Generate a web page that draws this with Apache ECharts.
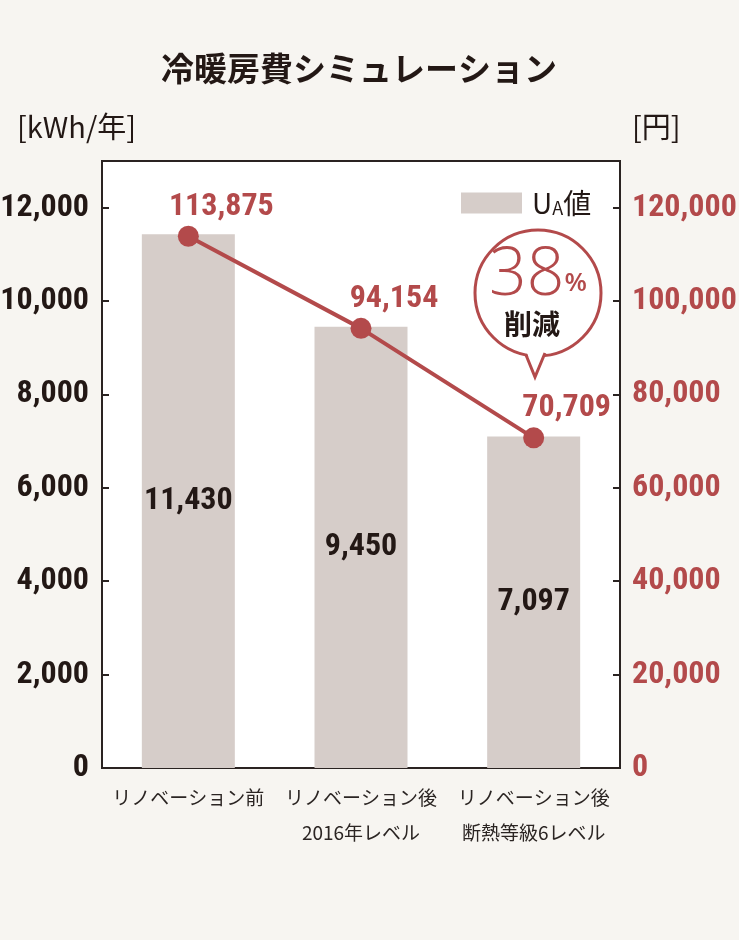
<!DOCTYPE html>
<html><head><meta charset="utf-8">
<script src="https://cdn.jsdelivr.net/npm/echarts@6/dist/echarts.min.js"></script>
<style>html,body{margin:0;padding:0;background:#f7f5f1;}#c{width:739px;height:940px;}</style>
</head><body><div id="c"></div>
<script>
const categories = ['リノベーション前', 'リノベーション後\n2016年レベル', 'リノベーション後\n断熱等級6レベル'];
const energyKWh = [11430, 9450, 7097];
const costYen = [113875, 94154, 70709];
const leftTicks = [0, 2000, 4000, 6000, 8000, 10000, 12000];
const rightTicks = [0, 20000, 40000, 60000, 80000, 100000, 120000];
const reductionPct = 38;

const NUM = '"Roboto Condensed","Open Sans Condensed",sans-serif';
const JP = '"Noto Sans CJK JP",sans-serif';
const RED = '#b34a4b';
const INK = '#231815';
const fmt = v => v.toLocaleString('en-US');

const chart = echarts.init(document.getElementById('c'));
chart.setOption({
  backgroundColor: '#f7f5f1',
  animation: false,
  title: {
    text: '冷暖房費シミュレーション', left: 156, top: 47,
    textStyle: { fontFamily: JP, fontSize: 33, fontWeight: 'bold', color: INK }
  },
  legend: {
    data: ['UA値'], left: 461, top: 189, padding: 0, itemWidth: 61, itemHeight: 21, itemGap: 10,
    icon: 'rect',
    formatter: () => '{u|U}{a|A}{v|値}',
    textStyle: { rich: {
      u: { fontFamily: JP, fontSize: 28, color: INK, padding: [0, 0, 0, 5] },
      a: { fontFamily: JP, fontSize: 18, color: INK, verticalAlign: 'bottom', padding: [7, 0, 0, 0] },
      v: { fontFamily: JP, fontSize: 28, color: INK }
    } }
  },
  grid: { left: 102, right: 119, top: 161, bottom: 172, outerBoundsMode: 'none', containLabel: false, show: true, backgroundColor: '#ffffff', borderColor: '#2a2321', borderWidth: 2 },
  xAxis: {
    type: 'category', data: categories,
    axisLine: { lineStyle: { color: '#2a2321', width: 2 } },
    axisTick: { inside: true, length: 8, lineStyle: { color: '#2a2321', width: 2 } },
    axisLabel: { interval: 0, fontFamily: JP, fontSize: 19, color: '#2b2523', lineHeight: 35, margin: 12 }
  },
  yAxis: [
    { type: 'value', min: 0, max: 13000, interval: 2000, splitLine: { show: false },
      axisLine: { show: true, lineStyle: { color: '#2a2321', width: 2 } },
      axisTick: { show: true, inside: true, length: 7, lineStyle: { color: '#2a2321', width: 2 } },
      axisLabel: { margin: 13, fontFamily: NUM, fontWeight: 'bold', fontSize: 32, color: INK,
        formatter: v => leftTicks.includes(v) ? fmt(v) : '' } },
    { type: 'value', min: 0, max: 130000, interval: 20000, splitLine: { show: false },
      axisLine: { show: true, lineStyle: { color: '#2a2321', width: 2 } },
      axisTick: { show: true, inside: true, length: 7, lineStyle: { color: '#2a2321', width: 2 } },
      axisLabel: { margin: 12, fontFamily: NUM, fontWeight: 'bold', fontSize: 32, color: RED,
        formatter: v => rightTicks.includes(v) ? fmt(v) : '' } }
  ],
  series: [
    { name: 'UA値', type: 'bar', data: energyKWh, barWidth: 93, itemStyle: { color: '#d6cdc9' },
      label: { show: true, position: 'inside', fontFamily: NUM, fontWeight: 'bold', fontSize: 32, color: INK,
        formatter: p => fmt(p.value) } },
    { name: '冷暖房費', type: 'line', yAxisIndex: 1, data: costYen, symbol: 'circle', symbolSize: 21,
      lineStyle: { color: RED, width: 4 }, itemStyle: { color: RED },
      label: { show: true, position: 'top', distance: 3, offset: [33, 0], fontFamily: NUM, fontWeight: 'bold', fontSize: 32, color: RED,
        formatter: p => fmt(p.value) } }
  ],
  graphic: [
    { type: 'circle', shape: { cx: 538, cy: 293, r: 63 }, style: { fill: '#fff', stroke: RED, lineWidth: 3 }, z: 100 },
    { type: 'polygon', shape: { points: [[526, 350], [546, 350], [535, 376]] }, style: { fill: '#fff' }, z: 101 },
    { type: 'polyline', shape: { points: [[526, 355], [535, 377], [545, 353]] }, style: { stroke: RED, lineWidth: 3, fill: null }, z: 102 },
    { type: 'text', x: 538, y: 276, z: 103, style: { text: '{n|' + reductionPct + '}{p|%}', align: 'center', verticalAlign: 'middle',
      rich: { n: { fontFamily: '"Open Sans",sans-serif', fontWeight: 300, fontSize: 66, fill: RED },
              p: { fontFamily: '"Open Sans",sans-serif', fontWeight: 600, fontSize: 26, fill: RED, padding: [16, 0, 0, 0] } } } },
    { type: 'text', x: 532, y: 324, z: 103, style: { text: '削減', align: 'center', verticalAlign: 'middle', font: 'bold 28px "Noto Sans CJK JP"', fill: INK } },
    { type: 'text', x: 17, y: 127, style: { text: '[kWh/年]', verticalAlign: 'middle', font: '29px "Noto Sans CJK JP"', fill: INK } },
    { type: 'text', x: 632, y: 127, style: { text: '[円]', verticalAlign: 'middle', font: '29px "Noto Sans CJK JP"', fill: INK } }
  ]
});
</script></body></html>
